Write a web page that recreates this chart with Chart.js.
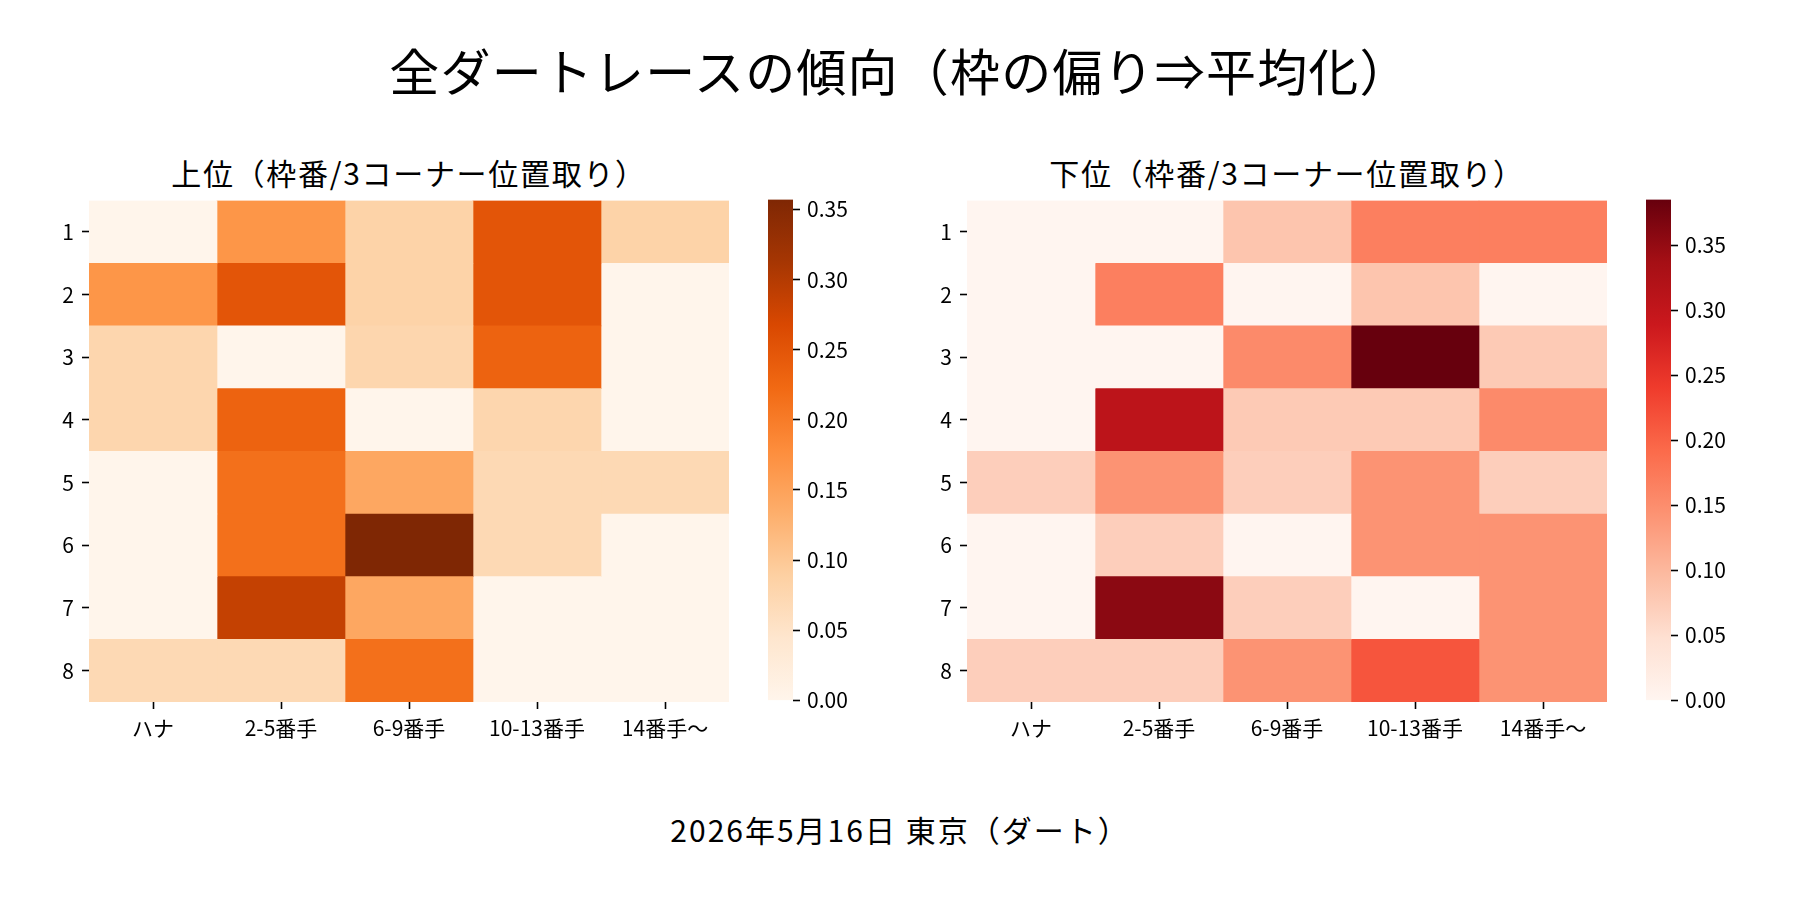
<!DOCTYPE html>
<html lang="ja">
<head>
<meta charset="utf-8">
<title>全ダートレースの傾向</title>
<script src="https://cdn.jsdelivr.net/npm/chart.js@4.4.0/dist/chart.umd.min.js"></script>
<style>
  html, body { margin: 0; padding: 0; background: #fff; }
  body {
    width: 1800px; height: 900px; position: relative; overflow: hidden;
    font-family: "Noto Sans CJK JP", sans-serif; color: #000;
  }
  .txt { position: absolute; white-space: nowrap; line-height: 1; text-align: center; }
  .box { position: absolute; }
</style>
</head>
<body>
<div class="txt" style="left:0;width:1800px;top:44px;font-size:50px;letter-spacing:1.2px;">全ダートレースの傾向（枠の偏り⇒平均化）</div>
<div class="txt" style="left:109px;width:600px;top:157px;font-size:30px;letter-spacing:1.7px;">上位（枠番/3コーナー位置取り）</div>
<div class="txt" style="left:987px;width:600px;top:157px;font-size:30px;letter-spacing:1.7px;">下位（枠番/3コーナー位置取り）</div>

<div class="box" style="left:0;top:180px;width:760px;height:590px;"><canvas id="heatUpper"></canvas></div>
<div class="box" style="left:768px;top:180px;width:105px;height:540px;"><canvas id="barUpper"></canvas></div>
<div class="box" style="left:878px;top:180px;width:760px;height:590px;"><canvas id="heatLower"></canvas></div>
<div class="box" style="left:1646px;top:180px;width:105px;height:540px;"><canvas id="barLower"></canvas></div>

<div class="txt" style="left:0;width:1800px;top:814px;font-size:30px;letter-spacing:2px;">2026年5月16日 東京（ダート）</div>

<script>
// 3コーナー位置取り（列）と枠番（行）
const colLabels = ["ハナ", "2-5番手", "6-9番手", "10-13番手", "14番手〜"];
const rowLabels = ["1", "2", "3", "4", "5", "6", "7", "8"];

// 上位馬の割合（行 = 枠番）
const upperRates = [
  [0,     0.167, 0.083, 0.250, 0.083],
  [0.167, 0.250, 0.083, 0.250, 0],
  [0.077, 0,     0.077, 0.231, 0],
  [0.077, 0.231, 0,     0.077, 0],
  [0,     0.214, 0.143, 0.071, 0.071],
  [0,     0.214, 0.357, 0.071, 0],
  [0,     0.286, 0.143, 0,     0],
  [0.071, 0.071, 0.214, 0,     0],
];

// 下位馬の割合
const lowerRates = [
  [0,     0,     0.083, 0.167, 0.167],
  [0,     0.167, 0,     0.083, 0],
  [0,     0,     0.154, 0.385, 0.077],
  [0,     0.308, 0.077, 0.077, 0.154],
  [0.071, 0.143, 0.071, 0.143, 0.071],
  [0,     0.071, 0,     0.143, 0.143],
  [0,     0.357, 0.071, 0,     0.143],
  [0.071, 0.071, 0.143, 0.214, 0.143],
];

const colorbarTicks = [0, 0.05, 0.10, 0.15, 0.20, 0.25, 0.30, 0.35];

// matplotlib の Oranges / Reds
const ORANGES = ["#fff5eb", "#fee6ce", "#fdd0a2", "#fdae6b", "#fd8d3c", "#f16913", "#d94801", "#a63603", "#7f2704"];
const REDS = ["#fff5f0", "#fee0d2", "#fcbba1", "#fc9272", "#fb6a4a", "#ef3b2c", "#cb181d", "#a50f15", "#67000d"];

Chart.defaults.font.family = "'Noto Sans CJK JP', sans-serif";
Chart.defaults.color = "#000";
Chart.defaults.animation = false;

function hexToRgb(h) {
  return [1, 3, 5].map(i => parseInt(h.slice(i, i + 2), 16));
}

function colorAt(cmap, t) {
  t = Math.min(1, Math.max(0, t));
  const pos = t * (cmap.length - 1);
  const i = Math.min(cmap.length - 2, Math.floor(pos));
  const f = pos - i;
  const a = hexToRgb(cmap[i]);
  const b = hexToRgb(cmap[i + 1]);
  const c = a.map((v, k) => Math.round(v + (b[k] - v) * f));
  return `rgb(${c[0]},${c[1]},${c[2]})`;
}

const tickGrid = {
  offset: false,
  drawOnChartArea: false,
  drawTicks: true,
  tickLength: 7,
  tickWidth: 1.6,
  tickColor: "#000",
};

function drawHeatmap(id, values, cmap) {
  const vmax = Math.max(...values.flat());
  // 列ごとに1データセット、各セルは幅1の積み上げ棒
  const datasets = colLabels.map((name, j) => ({
    label: name,
    data: rowLabels.map(() => 1),
    backgroundColor: values.map(row => colorAt(cmap, row[j] / vmax)),
    borderWidth: 0,
    barPercentage: 1,
    categoryPercentage: 1,
    xAxisID: "x",
    yAxisID: "y",
  }));

  new Chart(document.getElementById(id), {
    type: "bar",
    data: { labels: rowLabels, datasets },
    options: {
      indexAxis: "y",
      responsive: true,
      maintainAspectRatio: false,
      layout: { padding: { top: 18, right: 31, bottom: 18, left: 0 } },
      plugins: { legend: { display: false }, tooltip: { enabled: false } },
      scales: {
        x: { type: "linear", stacked: true, min: 0, max: colLabels.length, display: false },
        xc: {
          type: "category",
          axis: "x",
          position: "bottom",
          labels: colLabels,
          offset: true,
          grid: tickGrid,
          border: { display: false },
          ticks: { font: { size: 21 }, color: "#000", padding: 6, autoSkip: false, maxRotation: 0 },
          afterFit: s => { s.height = 50; },
        },
        y: {
          type: "category",
          stacked: true,
          offset: true,
          grid: tickGrid,
          border: { display: false },
          ticks: { font: { size: 21 }, color: "#000", padding: 8 },
          afterFit: s => { s.width = 89; },
        },
      },
    },
  });

  return vmax;
}

function drawColorbar(id, vmax, cmap) {
  new Chart(document.getElementById(id), {
    type: "bar",
    data: {
      labels: [""],
      datasets: [{
        data: [vmax],
        borderWidth: 0,
        barPercentage: 1,
        categoryPercentage: 1,
        backgroundColor: ctx => {
          const area = ctx.chart.chartArea;
          if (!area) return cmap[0];
          const g = ctx.chart.ctx.createLinearGradient(0, area.bottom, 0, area.top);
          cmap.forEach((c, i) => g.addColorStop(i / (cmap.length - 1), c));
          return g;
        },
      }],
    },
    options: {
      responsive: true,
      maintainAspectRatio: false,
      layout: { padding: { top: 18, right: 0, bottom: 18, left: 0 } },
      plugins: { legend: { display: false }, tooltip: { enabled: false } },
      scales: {
        x: { display: false },
        y: {
          position: "right",
          min: 0,
          max: vmax,
          grid: tickGrid,
          border: { display: false },
          afterBuildTicks: s => { s.ticks = colorbarTicks.map(v => ({ value: v })); },
          ticks: { font: { size: 21 }, color: "#000", padding: 7, callback: v => v.toFixed(2) },
          afterFit: s => { s.width = 80; },
        },
      },
    },
  });
}

const upperMax = drawHeatmap("heatUpper", upperRates, ORANGES);
drawColorbar("barUpper", upperMax, ORANGES);
const lowerMax = drawHeatmap("heatLower", lowerRates, REDS);
drawColorbar("barLower", lowerMax, REDS);
</script>
</body>
</html>
